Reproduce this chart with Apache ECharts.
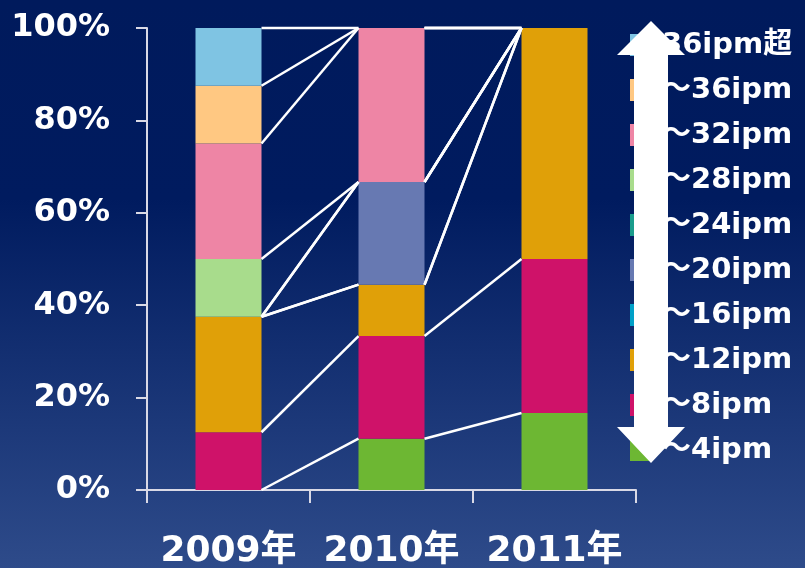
<!DOCTYPE html>
<html>
<head>
<meta charset="utf-8">
<script src="https://cdn.jsdelivr.net/npm/echarts@6/dist/echarts.min.js"></script>
<style>html,body{margin:0;padding:0;}#c{width:805px;height:568px;}</style>
</head>
<body>
<div id="c"></div>
<script>
const categories = ['2009年', '2010年', '2011年'];
const seriesNames = ['～4ipm', '～8ipm', '～12ipm', '～16ipm', '～20ipm', '～24ipm', '～28ipm', '～32ipm', '～36ipm', '36ipm超'];
const ipm4   = [0,    11.11, 16.67];
const ipm8   = [12.5, 22.22, 33.33];
const ipm12  = [25,   11.11, 50];
const ipm16  = [0,    0,     0];
const ipm20  = [0,    22.22, 0];
const ipm24  = [0,    0,     0];
const ipm28  = [12.5, 0,     0];
const ipm32  = [25,   33.34, 0];
const ipm36  = [12.5, 0,     0];
const ipmOver = [12.5, 0,    0];
const yTicks = [0, 20, 40, 60, 80, 100];

const values = [ipm4, ipm8, ipm12, ipm16, ipm20, ipm24, ipm28, ipm32, ipm36, ipmOver];
const colors = ['#6DB733', '#CF1269', '#E0A008', '#00A0C8', '#6779B2', '#1A9C8C', '#A8DC8C', '#EE85A5', '#FFC882', '#7FC4E3'];
const barFrac = 0.405;
const FONT = "'DejaVu Sans', 'Noto Sans CJK JP', sans-serif";

// cumulative tops for series lines
const cum = values.map(() => categories.map(() => 0));
for (let c = 0; c < categories.length; c++) {
  let s = 0;
  for (let k = 0; k < values.length; k++) { s += values[k][c]; cum[k][c] = s; }
}
const lineData = [];
for (let k = 0; k < values.length; k++) {
  for (let c = 0; c < categories.length - 1; c++) {
    lineData.push([c, cum[k][c], cum[k][c + 1]]);
  }
}

const series = seriesNames.map((n, k) => ({
  name: n, type: 'bar', stack: 'total', barWidth: (barFrac * 100) + '%',
  itemStyle: { color: colors[k] }, data: values[k]
}));
series.push({
  type: 'custom', coordinateSystem: 'cartesian2d', encode: { x: 0, y: 1 },
  data: lineData, silent: true, z: 5,
  renderItem: function (params, api) {
    const i = api.value(0);
    const a = api.coord([i, api.value(1)]);
    const b = api.coord([i + 1, api.value(2)]);
    const bw = api.size([1, 0])[0] * barFrac;
    return { type: 'line', shape: { x1: a[0] + bw / 2, y1: a[1], x2: b[0] - bw / 2, y2: b[1] },
      style: { stroke: '#ffffff', lineWidth: 2.5 } };
  }
});

const chart = echarts.init(document.getElementById('c'));
chart.setOption({
  animation: false,
  backgroundColor: { type: 'linear', x: 0, y: 0, x2: 0, y2: 1,
    colorStops: [{ offset: 0, color: '#001a5c' }, { offset: 0.35, color: '#001b5f' }, { offset: 1, color: '#2e4b8a' }] },
  grid: { left: 147, right: 169, top: 28, bottom: 78, outerBoundsMode: 'none', containLabel: false },
  legend: {
    orient: 'vertical', left: 625, top: 25, itemWidth: 22, itemHeight: 22, itemGap: 15,
    data: seriesNames.slice().reverse(), icon: 'rect',
    textStyle: { color: '#ffffff', fontFamily: FONT, fontWeight: 'bold', fontSize: 29, lineHeight: 30, padding: [0, 0, 0, 5] }
  },
  xAxis: {
    type: 'category', data: categories,
    axisLine: { lineStyle: { color: '#d9d9e6', width: 2 } },
    axisTick: { show: true, length: 13, lineStyle: { color: '#d9d9e6', width: 2 } },
    axisLabel: { color: '#ffffff', fontFamily: FONT, fontWeight: 'bold', fontSize: 36, margin: 44, interval: 0, hideOverlap: false }
  },
  yAxis: {
    type: 'value', min: yTicks[0], max: yTicks[yTicks.length - 1], interval: 20,
    splitLine: { show: false },
    axisLine: { show: true, lineStyle: { color: '#d9d9e6', width: 2 } },
    axisTick: { show: true, length: 11, lineStyle: { color: '#d9d9e6', width: 2 } },
    axisLabel: { color: '#ffffff', fontFamily: FONT, fontWeight: 'bold', fontSize: 32, margin: 37, formatter: '{value}%' }
  },
  graphic: [{
    type: 'polygon', z: 100,
    shape: { points: [[651, 21], [685, 55], [668, 55], [668, 427], [685, 427], [651, 463], [617, 427], [634, 427], [634, 55], [617, 55]] },
    style: { fill: '#ffffff' }
  }],
  series: series
});
</script>
</body>
</html>
